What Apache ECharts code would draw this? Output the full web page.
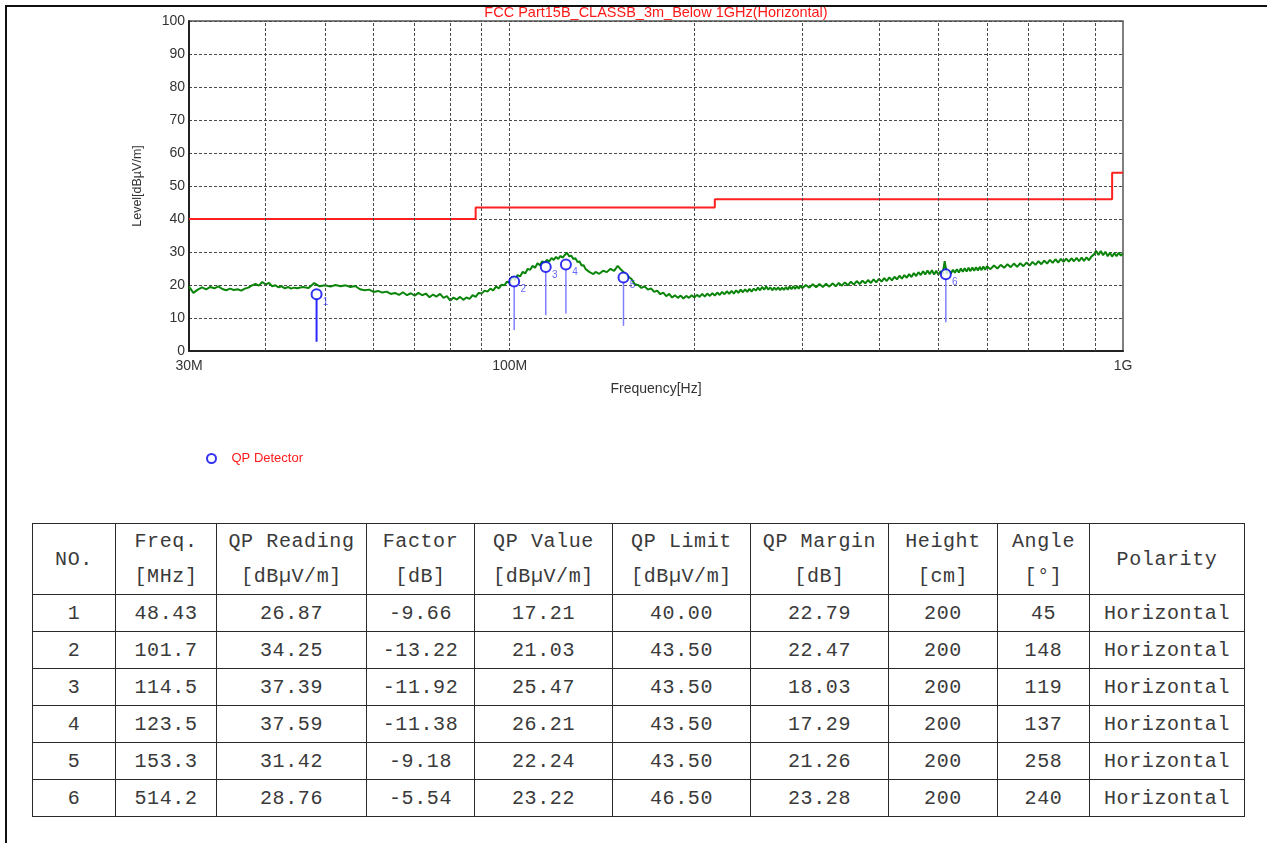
<!DOCTYPE html>
<html>
<head>
<meta charset="utf-8">
<script src="https://cdn.jsdelivr.net/npm/echarts@6/dist/echarts.min.js"></script>
<style>
  html, body { margin:0; padding:0; background:#fff; }
  #page { position:relative; width:1272px; height:843px; overflow:hidden; }
  #chart { position:absolute; left:0; top:0; width:1272px; height:500px; }
  .frameTop { position:absolute; left:5px; top:5px; width:1262px; height:2px; background:#111; }
  .frameLeft { position:absolute; left:5px; top:5px; width:2px; height:840px; background:#111; }
  table { position:absolute; left:32px; top:523px; border-collapse:collapse; table-layout:fixed;
          font-family:"Liberation Mono", "DejaVu Sans Mono", monospace; font-size:20px; color:#3a3a3a;
          letter-spacing:0.6px; }
  td { border:1.6px solid #2a2a2a; text-align:center; padding:0; height:36px; white-space:nowrap; }
  tr.head td { height:66px; line-height:35px; }
</style>
</head>
<body>
<div id="page">
  <div id="chart"></div>
  <div class="frameTop"></div>
  <div class="frameLeft"></div>
  <table id="tbl"></table>
</div>
<script>
// ---------------- data ----------------
const chartTitle = 'FCC Part15B_CLASSB_3m_Below 1GHz(Horizontal)';
const xTickLabels = { 30: '30M', 100: '100M', 1000: '1G' };
const xGridFreq = [40, 50, 60, 70, 80, 90, 100, 200, 300, 400, 500, 600, 700, 800, 900];

// limit line (MHz, dBuV/m)
const limitFreq = [30, 88, 216, 960, 1000];
const limitLevel = [40, 43.5, 46, 54, 54];

// measured trace (MHz)
const traceFreq = [
  30,30.5,31,31.5,32,32.5,33,33.5,34,34.5,35,35.5,36,36.5,37,37.5,38,38.5,39,39.5,40,40.5,41,41.5,42,42.5,43,43.5,44,44.5,
  45,46,47,48,49,50,51,52,53,54,55,56,57,58,59,60,61,62,63,64,65,66,67,68,69,
  70,71,72,73,74,75,76,77,78,79,80,81,82,83,84,85,86,87,88,89,90,91,92,93,94,95,96,97,98,99,
  100,101,102,103,104,105,106,107,108,109,110,111,112,113,114,115,116,117,118,119,120,121,122,123,124,125,126,127,128,129,
  130,131,132,133,134,135,136,137,138,139,
  140,142,144,146,148,150,152,154,156,158,160,162,164,166,168,170,172,174,176,178,180,182,184,186,188,190,192,194,196,198,
  200,202,204,206,208,210,212,214,216,218,220,222,224,226,228,230,232,234,236,238,240,242,244,246,248,250,252,254,256,258,
  260,262,264,266,268,270,272,274,276,278,280,282,284,286,288,290,292,294,296,298,
  300,304,308,312,316,320,324,328,332,336,340,344,348,352,356,360,364,368,372,376,380,384,388,392,396,
  400,404,408,412,416,420,424,428,432,436,440,444,448,452,456,460,464,468,472,476,480,484,488,492,496,
  500,504,508,512,516,520,524,528,532,536,540,544,548,552,556,560,564,568,572,576,580,584,588,592,596,
  600,608,616,624,632,640,648,656,664,672,680,688,696,704,712,720,728,736,744,752,760,768,776,784,792,
  800,808,816,824,832,840,848,856,864,872,880,888,896,904,912,920,928,936,944,952,960,968,976,984,992,1000
];
const traceLevel = [
  19.5,17.6,18.6,19.3,18.7,19.4,19.0,19.6,18.8,18.4,18.9,18.5,18.7,18.3,18.9,19.2,19.9,20.3,19.8,20.9,20.2,20.6,19.6,19.9,19.3,19.6,19.0,19.4,18.9,19.2,
  19.0,19.4,19.1,20.6,19.6,19.9,19.5,20.0,19.6,19.9,19.4,19.7,18.7,18.4,18.6,17.9,18.2,17.7,18.0,17.3,17.6,17.0,17.8,16.9,17.5,
  16.8,17.6,16.9,17.4,16.3,17.1,16.5,17.3,16.1,16.6,15.3,16.2,15.6,16.4,15.5,16.2,15.8,16.9,16.4,17.6,17.4,18.3,18.0,18.9,18.4,19.5,19.0,20.1,19.9,21.0,
  20.7,22.5,21.6,23.0,22.6,24.0,23.5,24.9,24.6,25.8,25.2,26.6,26.0,27.2,26.7,27.6,27.1,28.2,27.6,28.5,27.9,28.8,28.3,29.1,29.8,28.7,28.9,27.9,28.1,27.0,
  27.1,25.9,26.0,24.8,25.0,23.9,24.2,23.3,24.0,23.4,
  23.4,24.3,23.9,24.9,24.3,25.8,24.6,23.6,22.6,21.8,20.2,20.0,19.1,19.6,18.6,19.0,17.9,18.3,17.2,17.7,16.6,17.3,16.2,16.9,16.1,16.8,15.9,16.7,16.1,16.9,
  16.2,17.0,16.4,17.3,16.5,17.4,16.7,17.5,16.8,17.7,17.0,17.9,17.2,18.1,17.3,18.2,17.4,18.4,17.6,18.6,17.8,18.7,17.9,18.8,18.0,18.9,18.3,19.2,18.4,19.4,
  18.6,19.5,18.6,19.3,18.4,19.2,18.5,19.3,18.4,19.2,18.5,19.4,18.6,19.5,18.7,19.6,18.8,19.7,18.9,19.8,
  19.0,20.0,19.2,20.2,19.3,20.3,19.4,20.4,19.5,20.5,19.6,20.6,19.8,20.8,19.9,21.0,20.1,21.2,20.3,21.3,20.5,21.5,20.6,21.7,20.8,
  21.9,21.0,22.1,21.2,22.3,21.4,22.5,21.7,22.8,21.9,23.0,22.2,23.3,22.4,23.6,22.7,23.9,23.0,24.2,23.2,24.4,23.3,24.5,23.2,24.3,
  23.1,24.2,23.3,27.2,23.4,24.4,23.5,24.6,23.7,24.8,23.8,25.0,24.0,25.1,24.1,25.2,24.2,25.3,24.3,25.4,24.4,25.5,24.5,25.6,24.6,
  25.7,24.8,25.9,25.0,26.1,25.2,26.3,25.4,26.5,25.5,26.6,25.7,26.8,25.9,27.0,26.1,27.2,26.3,27.4,26.5,27.6,26.7,27.8,26.8,27.9,
  27.0,28.0,27.1,28.1,27.2,28.2,27.2,28.3,27.3,28.4,27.5,28.6,29.2,30.4,29.1,30.3,29.0,30.1,28.7,29.8,28.6,29.7,28.7,29.8,28.9,29.6
];

// QP markers / table
const markerNo      = ['1','2','3','4','5','6'];
const markerFreq    = [48.43, 101.7, 114.5, 123.5, 153.3, 514.2];
const qpReading     = ['26.87','34.25','37.39','37.59','31.42','28.76'];
const factor        = ['-9.66','-13.22','-11.92','-11.38','-9.18','-5.54'];
const qpValue       = [17.21, 21.03, 25.47, 26.21, 22.24, 23.22];
const qpLimit       = ['40.00','43.50','43.50','43.50','43.50','46.50'];
const qpMargin      = ['22.79','22.47','18.03','17.29','21.26','23.28'];
const heightCm      = ['200','200','200','200','200','200'];
const angleDeg      = ['45','148','119','137','258','240'];
const polarity      = ['Horizontal','Horizontal','Horizontal','Horizontal','Horizontal','Horizontal'];
const dropBottom    = [2.8, 6.4, 10.8, 11.4, 7.6, 8.7];

const headers = [['NO.'],['Freq.','[MHz]'],['QP Reading','[dBµV/m]'],['Factor','[dB]'],['QP Value','[dBµV/m]'],
                 ['QP Limit','[dBµV/m]'],['QP Margin','[dB]'],['Height','[cm]'],['Angle','[°]'],['Polarity']];
const colWidths = [83,101,150,108,138,138,138,109,92,155];

// ---------------- table ----------------
(function buildTable(){
  const t = document.getElementById('tbl');
  const cg = document.createElement('colgroup');
  colWidths.forEach(w => { const c = document.createElement('col'); c.style.width = w + 'px'; cg.appendChild(c); });
  t.appendChild(cg);
  const hr = document.createElement('tr'); hr.className = 'head';
  headers.forEach(h => { const td = document.createElement('td'); td.innerHTML = h.join('<br>'); hr.appendChild(td); });
  t.appendChild(hr);
  for (let i = 0; i < markerNo.length; i++) {
    const tr = document.createElement('tr');
    [markerNo[i], String(markerFreq[i]), qpReading[i], factor[i], qpValue[i].toFixed(2), qpLimit[i], qpMargin[i],
     heightCm[i], angleDeg[i], polarity[i]].forEach(v => {
      const td = document.createElement('td'); td.textContent = v; tr.appendChild(td);
    });
    t.appendChild(tr);
  }
  t.style.width = colWidths.reduce((a,b)=>a+b,0) + 'px';
})();

// ---------------- chart ----------------
const chart = echarts.init(document.getElementById('chart'));
const font = '"Liberation Sans", Arial, sans-serif';
const gridLine = { color: '#4a4a4a', width: 1, type: [3, 2] };

const limitData = limitFreq.map((f, i) => [f, limitLevel[i]]);
const traceData = traceFreq.map((f, i) => [f, traceLevel[i]]);
const markerData = markerFreq.map((f, i) => [f, qpValue[i]]);
const dropData = markerFreq.map((f, i) => [f, qpValue[i], dropBottom[i]]);

chart.setOption({
  animation: false,
  textStyle: { fontFamily: font },
  grid: { left: 189, top: 21, width: 934, height: 330, show: true, borderColor: '#555', borderWidth: 1.5 },
  graphic: [{
    type: 'text', x: 656, y: 13,
    style: { text: chartTitle, fill: '#ff1a1a', font: '14.5px ' + font, align: 'center', verticalAlign: 'middle' }
  }],
  legend: {
    data: ['QP Detector'], left: 201, top: 447, itemWidth: 30, itemHeight: 9,
    textStyle: { color: '#ff1a1a', fontSize: 13, fontFamily: font }
  },
  xAxis: {
    type: 'log', logBase: 10, min: 30, max: 1000,
    name: 'Frequency[Hz]', nameLocation: 'middle', nameGap: 31,
    nameTextStyle: { color: '#333', fontSize: 14, fontFamily: font },
    axisLine: { show: true, lineStyle: { color: '#222', width: 2 } },
    axisTick: { show: false },
    splitLine: { show: false },
    axisLabel: {
      color: '#333', fontSize: 14, margin: 8, fontFamily: font,
      formatter: v => xTickLabels[Math.round(v)] || ''
    }
  },
  yAxis: {
    type: 'value', min: 0, max: 100, interval: 10,
    name: 'Level[dBµV/m]', nameLocation: 'middle', nameGap: 45, nameRotate: 90,
    nameTextStyle: { color: '#333', fontSize: 12.5, fontFamily: font },
    axisLine: { show: true, lineStyle: { color: '#222', width: 2 } },
    axisTick: { show: false },
    axisLabel: { color: '#333', fontSize: 14, margin: 4, fontFamily: font },
    splitLine: { show: true, lineStyle: gridLine }
  },
  series: [
    {
      name: 'grid', type: 'line', data: [], silent: true,
      markLine: {
        silent: true, symbol: ['none', 'none'], label: { show: false },
        lineStyle: gridLine,
        data: xGridFreq.map(f => ({ xAxis: f }))
      }
    },
    {
      name: 'trace', type: 'line', data: traceData, showSymbol: false, silent: true,
      lineStyle: { color: '#0a850a', width: 2 }, z: 3
    },
    {
      name: 'limit', type: 'line', data: limitData, step: 'end', showSymbol: false, silent: true,
      lineStyle: { color: '#ff2020', width: 2 }, z: 4
    },
    {
      name: 'drops', type: 'custom', data: dropData, silent: true, z: 5,
      renderItem: (params, api) => {
        const top = api.coord([api.value(0), api.value(1)]);
        const bot = api.coord([api.value(0), api.value(2)]);
        const first = params.dataIndex === 0;
        return {
          type: 'line',
          shape: { x1: top[0], y1: top[1] + 5, x2: bot[0], y2: bot[1] },
          style: { stroke: first ? '#2a2aff' : '#8080ff', lineWidth: first ? 2 : 1.5 }
        };
      }
    },
    {
      name: 'QP Detector', type: 'scatter', data: markerData, symbol: 'emptyCircle', symbolSize: 10, z: 6,
      itemStyle: { color: '#0000ee', borderColor: '#0000ee', borderWidth: 2 },
      label: {
        show: true, position: 'inside', offset: [9, 8], fontSize: 10, color: '#4040ff',
        formatter: p => markerNo[p.dataIndex]
      }
    }
  ]
});
</script>
</body>
</html>
